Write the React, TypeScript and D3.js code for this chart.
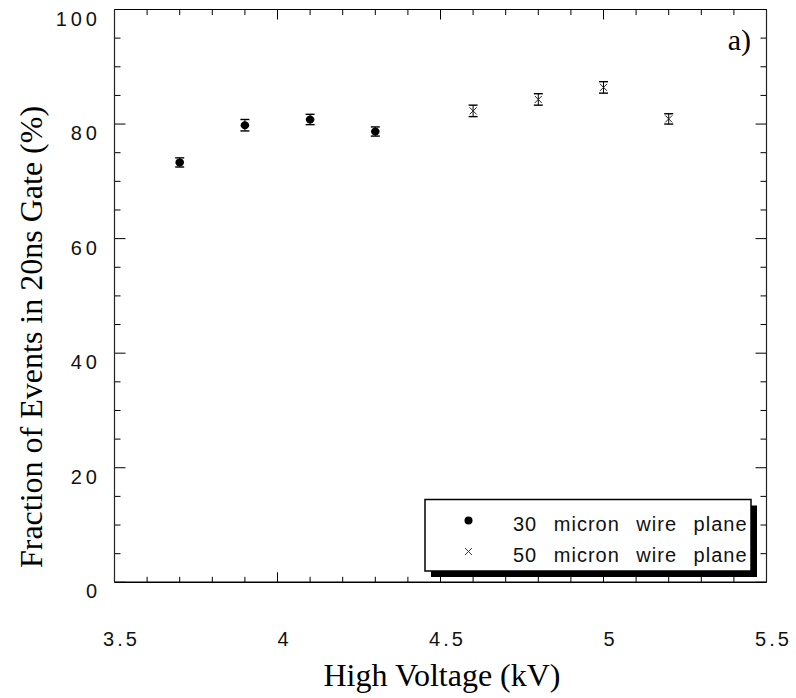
import React from 'react';
import * as d3 from 'd3';

const voltages30 = [3.7, 3.9, 4.1, 4.3];
const fraction30 = [73.3, 79.8, 80.8, 78.7];
const error30 = [0.8, 1.0, 0.9, 0.8];
const voltages50 = [4.6, 4.8, 5.0, 5.2];
const fraction50 = [82.3, 84.3, 86.4, 80.9];
const error50 = [1.0, 1.0, 1.0, 0.9];
const xTickLabels = ['3.5', '4', '4.5', '5', '5.5'];
const yTickLabels = ['0', '20', '40', '60', '80', '100'];
const legendLabels = ['30 micron wire plane', '50 micron wire plane'];
const xTitle = 'High Voltage (kV)';
const yTitle = 'Fraction of Events in 20ns Gate (%)';
const panelLabel = 'a)';

const W = 796, H = 698;
const L = 114.5, R = 766.5, T = 9.5, B = 582.3;
const SANS = '"Liberation Sans", Arial, sans-serif';
const SERIF = '"Liberation Serif", "Times New Roman", serif';

export default function App() {
  const x = d3.scaleLinear().domain([3.5, 5.5]).range([L, R]);
  const y = d3.scaleLinear().domain([0, 100]).range([B, T]);
  const xMinor = d3.range(0, 21).map(i => 3.5 + i * 0.1);
  const yMinor = d3.range(0, 21).map(i => i * 5);
  const isXMajor = (v: number) => Math.abs(v * 2 - Math.round(v * 2)) < 1e-6;
  const isYMajor = (v: number) => v % 20 === 0;

  const s30 = voltages30.map((v, i) => ({ v, f: fraction30[i], e: error30[i] }));
  const s50 = voltages50.map((v, i) => ({ v, f: fraction50[i], e: error50[i] }));

  const cross = (cx: number, cy: number, r: number, key: any, sw = 1) => (
    <g key={key} stroke="#222" strokeWidth={sw}>
      <line x1={cx - r} y1={cy - r} x2={cx + r} y2={cy + r} />
      <line x1={cx - r} y1={cy + r} x2={cx + r} y2={cy - r} />
    </g>
  );

  const errBar = (cx: number, f: number, e: number, key: any) => (
    <g key={key} stroke="#000" strokeWidth={1.4}>
      <line x1={cx} x2={cx} y1={y(f + e)} y2={y(f - e)} strokeWidth={1} />
      <line x1={cx - 4.5} x2={cx + 4.5} y1={y(f + e)} y2={y(f + e)} />
      <line x1={cx - 4.5} x2={cx + 4.5} y1={y(f - e)} y2={y(f - e)} />
    </g>
  );

  const lgX = 425, lgY = 499.5, lgW = 326, lgH = 71.5;

  return (
    <svg width={W} height={H} style={{ position: 'absolute', left: 0, top: 0, background: '#fff' }}>
      <rect x={0} y={0} width={W} height={H} fill="#fff" />
      {/* ticks */}
      <g stroke="#000" strokeWidth={1}>
        {xMinor.map((v, i) => {
          const len = isXMajor(v) ? 10 : 5.5;
          return (
            <g key={'xt' + i}>
              <line x1={x(v)} x2={x(v)} y1={B} y2={B - len} />
              <line x1={x(v)} x2={x(v)} y1={T} y2={T + len} />
            </g>
          );
        })}
        {yMinor.map((v, i) => {
          const len = isYMajor(v) ? 11 : 6;
          return (
            <g key={'yt' + i}>
              <line x1={L} x2={L + len} y1={y(v)} y2={y(v)} />
              <line x1={R} x2={R - len} y1={y(v)} y2={y(v)} />
            </g>
          );
        })}
      </g>
      {/* frame */}
      <line x1={L} x2={R} y1={B} y2={B} stroke="#000" strokeWidth={1.4} />
      <line x1={L} x2={R} y1={T} y2={T} stroke="#000" strokeWidth={1.2} />
      <line x1={L} x2={L} y1={T} y2={B} stroke="#222" strokeWidth={1.2} />
      <line x1={R} x2={R} y1={T} y2={B} stroke="#222" strokeWidth={1.2} />

      {/* tick labels */}
      {xTickLabels.map((t, i) => (
        <text key={'xl' + i} x={x(+t) + 7} y={646} textAnchor="middle" fontFamily={SANS} fontSize={20} letterSpacing={3} fill="#111">{t}</text>
      ))}
      {yTickLabels.map((t, i) => (
        <text key={'yl' + i} x={101} y={y(+t) + 16} textAnchor="end" fontFamily={SANS} fontSize={20} letterSpacing={4} fill="#111">{t}</text>
      ))}

      {/* titles */}
      <text x={442} y={686} textAnchor="middle" fontFamily={SERIF} fontSize={32} fill="#000">{xTitle}</text>
      <text transform={`translate(42,337) rotate(-90)`} textAnchor="middle" fontFamily={SERIF} fontSize={32} fill="#000">{yTitle}</text>
      <text x={751} y={50} textAnchor="end" fontFamily={SERIF} fontSize={30} fill="#000">{panelLabel}</text>

      {/* data 30 micron */}
      {s30.map((d, i) => (
        <g key={'a' + i}>
          {errBar(x(d.v), d.f, d.e, 'ae' + i)}
          <ellipse cx={x(d.v)} cy={y(d.f)} rx={4.3} ry={4} fill="#000" />
        </g>
      ))}
      {/* data 50 micron */}
      {s50.map((d, i) => (
        <g key={'b' + i}>
          {errBar(x(d.v), d.f, d.e, 'be' + i)}
          {cross(x(d.v), y(d.f), 3.5, 'bc' + i, 1)}
        </g>
      ))}

      {/* legend */}
      <rect x={lgX + 6} y={lgY + 6} width={lgW} height={lgH} fill="#000" />
      <rect x={lgX} y={lgY} width={lgW} height={lgH} fill="#fff" stroke="#000" strokeWidth={1.5} />
      <circle cx={468.5} cy={520.5} r={4} fill="#000" />
      {cross(468.5, 551.5, 3.5, 'lgc', 0.9)}
      {legendLabels.map((t, i) => (
        <text key={'lg' + i} x={513} y={530.5 + i * 31} fontFamily={SANS} fontSize={20} letterSpacing={1} wordSpacing={10} fill="#111">{t}</text>
      ))}
    </svg>
  );
}
